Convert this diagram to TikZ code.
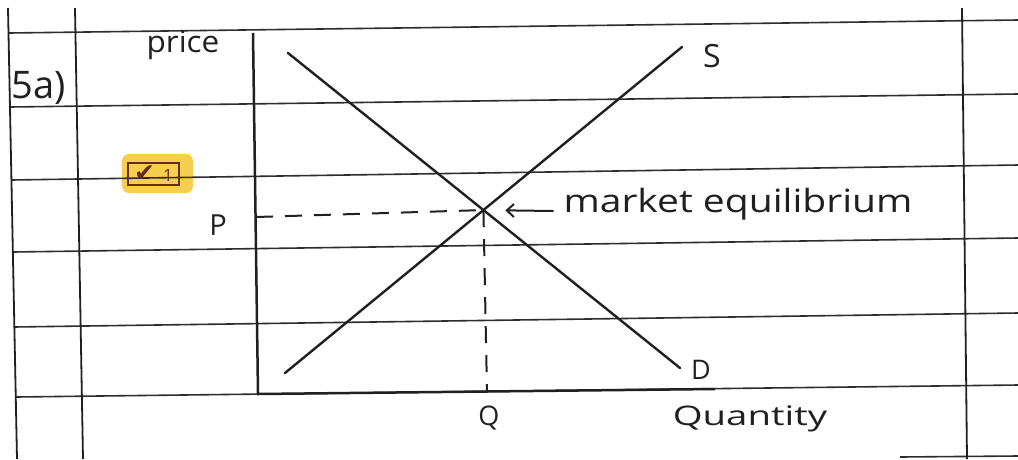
\documentclass[tikz,border=0pt]{standalone}
\usepackage{fontspec}
\usepackage{graphicx}
\setmainfont{Open Sans}
\newfontfamily\symfont{DejaVu Sans}
\usetikzlibrary{arrows.meta}
\definecolor{ink}{RGB}{32,32,32}
\definecolor{rule}{RGB}{45,45,45}
\definecolor{hilite}{RGB}{248,206,80}
\definecolor{badgebrown}{RGB}{100,45,20}
\tikzset{
  ruled/.style={draw=rule, line width=1.6pt},
  frame/.style={draw=ink, line width=1.8pt},
  axisline/.style={draw=ink, line width=2.5pt},
  curve/.style={draw=ink, line width=2.4pt, line cap=round},
  guide/.style={draw=ink, line width=2pt, dash pattern=on 17pt off 12pt},
  hand/.style={text=ink, inner sep=0pt},
}
\begin{document}
\begin{tikzpicture}[x=1pt,y=-1pt]
\useasboundingbox[fill=white] (0,0) rectangle (1018,459);

% highlight of the mark badge (under the ruled lines)
\fill[hilite, rounded corners=7pt] (122,154) rectangle (193,193);

% ruled lines
\draw[ruled] (9,33) -- (1018,20);
\draw[ruled] (10,107) -- (1018,94);
\draw[ruled] (11,180) -- (1018,165);
\draw[ruled] (13,252) -- (1018,238);
\draw[ruled] (14,327) -- (1018,313);
\draw[ruled] (16,397) -- (1018,385);
\draw[ruled] (900,457) -- (1018,456);

% vertical margin lines
\draw[frame] (8,8) -- (17,459);
\draw[frame] (75,8) -- (83,459);
\draw[frame] (962,8) -- (967,459);

% axes
\coordinate (origin) at (258,394);
\coordinate (ytop) at (253,33);
\coordinate (xend) at (715,389);
\draw[axisline] (ytop) -- (origin) -- (xend);

% supply and demand
\coordinate (s0) at (285,373);
\coordinate (s1) at (682,47);
\coordinate (d0) at (288,53);
\coordinate (d1) at (680,368);
\draw[curve] (s0) -- (s1);
\draw[curve] (d0) -- (d1);
\coordinate (eq) at (intersection of s0--s1 and d0--d1);

% guides to the axes
\coordinate (pAx) at (256,217);
\coordinate (qAx) at (487,392);
\draw[guide] (pAx) -- (eq);
\draw[guide] (eq) -- (qAx);

% labels
\node[hand, font=\fontsize{30}{32}\selectfont] (price) at (183,45) {\scalebox{1.05}[1]{price}};
\node[hand, font=\fontsize{38}{40}\selectfont] (fivea) at (39,88) {5a)};
\node[hand, font=\fontsize{29}{30}\selectfont] (P) at (218,225) {P};
\node[hand, font=\fontsize{32}{34}\selectfont] (S) at (712,56) {S};
\node[hand, font=\fontsize{27}{30}\selectfont] (D) at (701,370) {D};
\node[hand, font=\fontsize{27}{30}\selectfont] (Q) at (489,418) {Q};
\node[hand, font=\fontsize{27}{29}\selectfont] (quantity) at (750,419) {\scalebox{1.42}[1]{Quantity}};
\node[hand, font=\fontsize{32}{34}\selectfont] (eqlabel) at (738,204) {\scalebox{1.22}[1]{market equilibrium}};
\coordinate (arrTail) at (553,211);
\draw[curve, line width=2pt, -{Straight Barb[length=7pt,width=13pt]}, shorten >=22pt] (arrTail) -- (eq);

% mark badge
\node[draw=badgebrown, line width=1.6pt, minimum width=51pt, minimum height=22pt, inner sep=0pt,
      text=badgebrown] (badge) at (153.5,174)
      {{\symfont\fontsize{25}{26}\selectfont ✔}\hspace{8pt}{\fontsize{17}{18}\selectfont 1}};
\end{tikzpicture}
\end{document}
